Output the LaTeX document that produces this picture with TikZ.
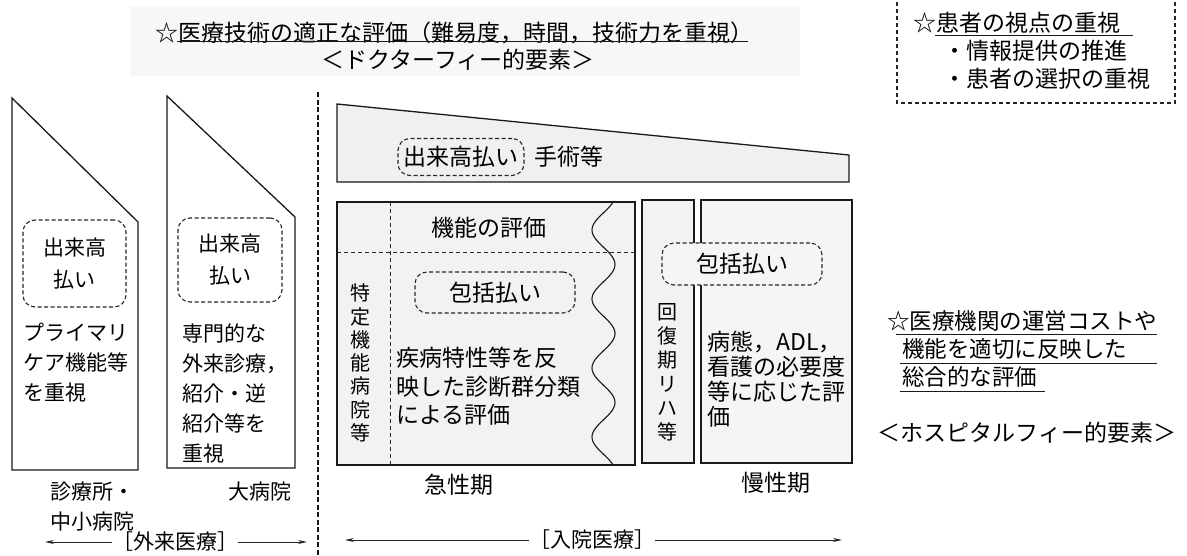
\documentclass[tikz,border=0pt]{standalone}
\usepackage{fontspec}
\setmainfont{Noto Sans CJK JP}
\usetikzlibrary{arrows.meta}
\begin{document}
\begin{tikzpicture}[x=1pt,y=-1pt,
  outl/.style={draw=black!90, line width=1.3pt},
  dbox/.style={draw=black!85, dash pattern=on 4pt off 2.5pt, line width=1.1pt, rounded corners=12pt, inner sep=0pt, text=black},
  inlinedash/.style={draw=black!85, dash pattern=on 4pt off 3pt, line width=1pt},
  sepline/.style={draw=black!90, dash pattern=on 5pt off 2.5pt, line width=1.6pt},
  boxdash/.style={draw=black!85, dash pattern=on 4pt off 3pt, line width=1.1pt},
  uline/.style={draw=black!90, line width=1pt},
  arr/.style={draw=black!85, line width=0.9pt, -{Stealth[length=9pt,width=4pt]}},
  tA/.style={font=\fontsize{21}{30}\selectfont, inner sep=0pt, align=left, text=black},
  tB/.style={font=\fontsize{23}{28.5}\selectfont, inner sep=0pt, align=left, text=black},
  tC/.style={font=\fontsize{23}{25}\selectfont, inner sep=0pt, align=left, text=black},
  tR/.style={font=\fontsize{22.5}{28}\selectfont, inner sep=0pt, align=left, text=black},
  vtA/.style={font=\fontsize{20}{23.3}\selectfont, inner sep=0pt, align=center, text=black},
  vtB/.style={font=\fontsize{20}{24}\selectfont, inner sep=0pt, align=center, text=black},
  tint/.style={fill=black!6}
]
\useasboundingbox (0,0) rectangle (1187,555);
\fill[white] (0,0) rectangle (1187,555);
\fill[black!3] (130,6) rectangle (800,76);

% ---- top title ----
\node[tB, anchor=west] (title) at (155,33) {☆医療技術の適正な評価（難易度，時間，技術力を重視）};
\draw[uline] (177,41) -- (748,41);
\node[tB] (doctor) at (458,60) {＜ドクターフィー的要素＞};

% ---- patient box ----
\draw[boxdash] (897,-5) |- (1175,103) -- (1175,-5);
\node[tB, anchor=west] (pt1) at (913,23) {☆患者の視点の重視};
\draw[uline] (935,35) -- (1133,35);
\node[tB, anchor=west] (pt2) at (943,51) {・情報提供の推進};
\node[tB, anchor=west] (pt3) at (943,79) {・患者の選択の重視};

% ---- separator ----
\draw[sepline] (318,92) -- (318,560);

% ---- outpatient columns ----
\draw[outl] (12,98) -- (138,222) -- (138,470) -- (12,470) -- cycle;
\draw[outl] (167,96) -- (295,217) -- (295,468) -- (167,468) -- cycle;
\node[dbox, minimum width=103pt, minimum height=87pt, align=center, font=\fontsize{21}{32}\selectfont] (pay1) at (74.5,263.5) {出来高\\払い};
\node[dbox, minimum width=104pt, minimum height=84pt, align=center, font=\fontsize{21}{32}\selectfont] (pay2) at (230,260) {出来高\\払い};
\node[tA, anchor=west] (prim) at (23,363) {プライマリ\\ケア機能等\\を重視};
\node[tA, anchor=west] (spec) at (182,393) {専門的な\\外来診療，\\紹介・逆\\紹介等を\\重視};
\node[tA, anchor=west] (clinic) at (50,507) {診療所・\\中小病院};
\node[tA] (large) at (260,492) {大病院};

% ---- wedge ----
\draw[outl, tint] (337,104) -- (849,155) -- (849,182) -- (337,182) -- cycle;
\node[dbox, minimum width=126pt, minimum height=37pt, font=\fontsize{23}{25}\selectfont] (pay3) at (461,157) {出来高払い};
\node[tB] (surg) at (569,157) {手術等};

% ---- acute box ----
\draw[outl, fill=black!5] (337,202) rectangle (635,465);
\draw[inlinedash] (337,252) -- (635,252);
\draw[inlinedash] (390,202) -- (390,465);
\draw[draw=black!90, line width=1.1pt] plot[domain=202:465, samples=140, smooth] ({603.5-11.5*cos(5.2174*(\x-230))}, \x);
\node[tB] (func) at (489,228) {機能の評価};
\node[dbox, minimum width=160pt, minimum height=41pt, font=\fontsize{23}{25}\selectfont] (incl1) at (495,292.5) {包括払い};
\node[vtA] (tokutei) at (360,363) {特\\定\\機\\能\\病\\院\\等};
\node[tB, anchor=west] (dpc) at (396,386.5) {疾病特性等を反\\映した診断群分類\\による評価};

% ---- recovery and chronic ----
\draw[outl, fill=black!5] (642,200) rectangle (694,463);
\draw[outl, fill=black!4] (701,200) rectangle (852,463);
\node[dbox, fill=black!4, minimum width=160pt, minimum height=42pt, font=\fontsize{23}{25}\selectfont] (incl2) at (742,264) {包括払い};
\node[vtB] (rehab) at (667,372.5) {回\\復\\期\\リ\\ハ\\等};
\node[tC, anchor=west] (chron) at (707,379.5) {病態，ADL，\\看護の必要度\\等に応じた評\\価};

\node[tB] (acute) at (459,485) {急性期};
\node[tB] (chronic) at (776,483) {慢性期};

% ---- hospital fee text ----
\node[tR, anchor=west] (h1) at (887,321) {☆医療機関の運営コストや};
\node[tR, anchor=west] (h2) at (902,349) {機能を適切に反映した};
\node[tR, anchor=west] (h3) at (902,377) {総合的な評価};
\draw[uline] (896,334) -- (1157,334);
\draw[uline] (900,363) -- (1157,363);
\draw[uline] (900,391) -- (1045,391);
\node[tB] (hosp) at (1027,433) {＜ホスピタルフィー的要素＞};

% ---- bottom arrows ----
\node[tA] (gairai) at (175,542) {［外来医療］};
\coordinate (gl) at (45,542);
\coordinate (gr) at (307,542);
\draw[arr] (gairai.west) -- (gl);
\draw[arr] (gairai.east) -- (gr);
\node[tA] (nyuin) at (592,540) {［入院医療］};
\coordinate (nl) at (345,540);
\coordinate (nr) at (842,540);
\draw[arr] (nyuin.west) -- (nl);
\draw[arr] (nyuin.east) -- (nr);
\end{tikzpicture}
\end{document}
